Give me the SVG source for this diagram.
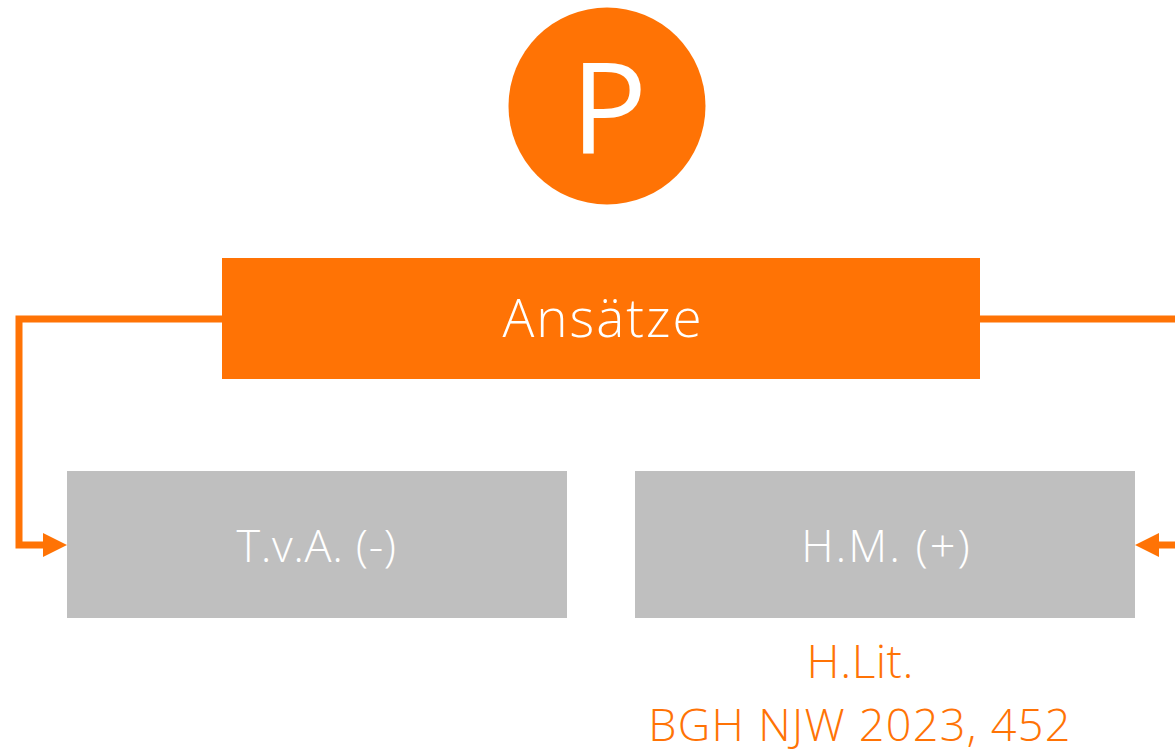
<svg xmlns="http://www.w3.org/2000/svg" width="1175" height="752" viewBox="0 0 1175 752">
<defs>
<style>
.t{font-family:"Open Sans","Liberation Sans",sans-serif;font-weight:300;text-anchor:middle}
.w{fill:#ffffff}
.o{fill:#FF7305}
.g{fill:#BFBFBF}
.c{fill:none;stroke:#FF7305;stroke-width:7}
</style>
<path id="ah" d="M0,-12 L24,0 L0,12 Z" fill="#FF7305"/>
</defs>
<rect width="1175" height="752" fill="#ffffff"/>
<g id="connectors">
<polyline class="c" points="222,319 19,319 19,545 45,545"/>
<use href="#ah" transform="translate(43,545)"/>
<polyline class="c" points="980,319 1175,319"/>
<line class="c" x1="1175" y1="545" x2="1157" y2="545"/>
<use href="#ah" transform="translate(1159,545) rotate(180)"/>
</g>
<g id="node-p">
<circle cx="607" cy="106" r="98.5" class="o"/>
<text x="609" y="154" class="t w" font-size="127" style="font-weight:400">P</text>
</g>
<g id="node-ansaetze">
<rect x="222" y="258" width="758" height="121" class="o"/>
<text x="603" y="337" class="t w" font-size="53" letter-spacing="2">Ansätze</text>
</g>
<g id="node-tva">
<rect x="67" y="471" width="500" height="147" class="g"/>
<text x="316.5" y="562" class="t w" font-size="45" letter-spacing="0.6">T.v.A. (-)</text>
</g>
<g id="node-hm">
<rect x="635" y="471" width="500" height="147" class="g"/>
<text x="886.5" y="562" class="t w" font-size="45" letter-spacing="2">H.M. (+)</text>
</g>
<g id="label-hm">
<text x="860.3" y="678" class="t o" font-size="46" letter-spacing="0.5">H.Lit.</text>
<text x="860" y="741" class="t o" font-size="45" letter-spacing="1.3">BGH NJW 2023, 452</text>
</g>
</svg>
